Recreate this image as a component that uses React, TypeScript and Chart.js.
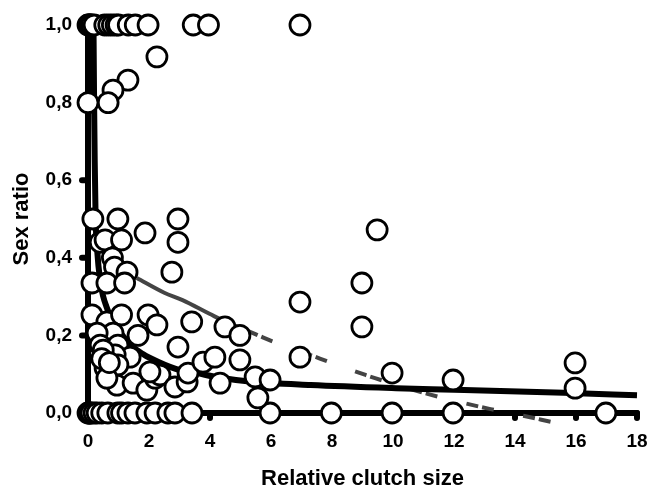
import { useEffect, useRef } from "react";
import { Chart, registerables } from "chart.js";

Chart.register(...registerables);

// Axis ticks
const xTicks = [0, 2, 4, 6, 8, 10, 12, 14, 16, 18];
const yTicks = [0, 0.2, 0.4, 0.6, 0.8, 1.0];

// Broods that were all male (sex ratio 1.0)
const allMaleX = [0, 0.02, 0.05, 0.08, 0.12, 0.2, 0.55, 0.68, 0.8, 0.92, 1.0, 1.32, 1.55, 1.97, 3.45, 3.95, 6.95];
const allMaleY = allMaleX.map(() => 1.0);

// Broods with mixed sex ratios
const mixedX = [
  2.26, 1.31, 0.82, 0.66, 0,
  0.16, 0.98, 1.87, 2.95, 2.95, 2.75, 0.4, 0.56, 1.1, 0.8, 0.87, 1.28, 0.13, 0.62, 1.2,
  9.48, 8.98, 8.98, 6.95, 6.95,
  0.13, 0.62, 1.1, 1.97, 2.26, 3.4, 1.64, 0.82, 0.3, 2.95, 0.4, 0.98, 1.38, 0.89, 0.5,
  0.56, 0.98, 0.95, 1.48, 1.93, 2.2, 2.36, 2.85, 3.25, 3.28, 3.77, 2.03, 0.62,
  4.49, 4.98, 4.16, 4.98, 4.33, 5.48, 5.97, 5.57, 9.97, 11.97, 15.97, 15.97, 0.45, 0.7,
];
const mixedY = [
  0.918, 0.858, 0.832, 0.8, 0.8,
  0.5, 0.5, 0.464, 0.5, 0.44, 0.363, 0.44, 0.446, 0.446, 0.4, 0.376, 0.363, 0.335, 0.335, 0.335,
  0.472, 0.335, 0.222, 0.286, 0.144,
  0.253, 0.235, 0.253, 0.253, 0.227, 0.235, 0.2, 0.206, 0.206, 0.17, 0.175, 0.175, 0.144, 0.15, 0.162,
  0.116, 0.124, 0.072, 0.077, 0.059, 0.09, 0.098, 0.067, 0.08, 0.103, 0.131, 0.106, 0.09,
  0.222, 0.2, 0.144, 0.137, 0.077, 0.093, 0.085, 0.039, 0.103, 0.085, 0.129, 0.064, 0.14, 0.13,
];

// Broods that were all female (sex ratio 0.0)
const allFemaleX = [0, 0.03, 0.06, 0.1, 0.2, 0.3, 0.45, 0.65, 0.98, 1.1, 1.31, 1.54, 1.93, 2.2, 2.62, 2.85, 3.41, 5.97, 7.98, 9.97, 11.97, 16.98];
const allFemaleY = allFemaleX.map(() => 0);

// Fitted curve (solid)
const fitX = [0.18, 0.2, 0.22, 0.25, 0.3, 0.4, 0.5, 0.6, 0.7, 1.0, 1.4, 1.8, 2.0, 2.9, 3.5, 4.4, 5.3, 7.3, 10.1, 12, 15.6, 18];
const fitY = [1.0, 0.8, 0.65, 0.5, 0.42, 0.34, 0.3, 0.275, 0.255, 0.215, 0.175, 0.152, 0.143, 0.113, 0.104, 0.09, 0.081, 0.072, 0.064, 0.06, 0.052, 0.046];

// Second fitted curve (grey, dashed beyond x = 4.8)
const trendX = [1.6, 2.5, 3.1, 4.0, 4.6, 5.2, 5.7, 6.1, 7.0, 8.2, 9.1, 9.6, 11.1, 12.1, 13.2, 14.2, 15.2];
const trendY = [0.348, 0.31, 0.291, 0.255, 0.232, 0.213, 0.196, 0.183, 0.158, 0.123, 0.098, 0.085, 0.05, 0.03, 0.01, -0.006, -0.023];

const toPoints = (xs: number[], ys: number[]) => xs.map((x, i) => ({ x, y: ys[i] }));

const FONT = "'Liberation Sans', Arial, Helvetica, sans-serif";

const axesPlugin = {
  id: "thickAxes",
  beforeDatasetsDraw(chart: any) {
    const { ctx, scales } = chart;
    const xs = scales.x;
    const ys = scales.y;
    const x0 = xs.getPixelForValue(xTicks[0]);
    const x1 = xs.getPixelForValue(xTicks[xTicks.length - 1]);
    const y0 = ys.getPixelForValue(yTicks[0]);
    const y1 = ys.getPixelForValue(yTicks[yTicks.length - 1]);
    ctx.save();
    ctx.strokeStyle = "#000";
    ctx.lineCap = "round";
    ctx.lineJoin = "round";
    ctx.lineWidth = 6;
    ctx.beginPath();
    ctx.moveTo(x0, y1);
    ctx.lineTo(x0, y0);
    ctx.lineTo(x1, y0);
    ctx.stroke();
    for (const v of yTicks) {
      const py = ys.getPixelForValue(v);
      ctx.beginPath();
      ctx.moveTo(x0 - 6, py);
      ctx.lineTo(x0, py);
      ctx.stroke();
    }
    for (const v of xTicks) {
      const px = xs.getPixelForValue(v);
      ctx.beginPath();
      ctx.moveTo(px, y0);
      ctx.lineTo(px, y0 + 5);
      ctx.stroke();
    }
    ctx.restore();
  },
};

export default function App() {
  const canvasRef = useRef<HTMLCanvasElement | null>(null);

  useEffect(() => {
    const canvas = canvasRef.current;
    if (!canvas) return;
    const circleStyle = {
      showLine: false,
      pointRadius: 10,
      pointBorderWidth: 2.8,
      pointBorderColor: "#000",
      pointBackgroundColor: "#fff",
      clip: false as const,
    };
    const chart = new Chart(canvas, {
      type: "scatter",
      data: {
        datasets: [
          { label: "all male", data: toPoints(allMaleX, allMaleY), ...circleStyle },
          { label: "mixed", data: toPoints(mixedX, mixedY), ...circleStyle },
          { label: "all female", data: toPoints(allFemaleX, allFemaleY), ...circleStyle },
          {
            label: "fit",
            data: toPoints(fitX, fitY),
            showLine: true,
            pointRadius: 0,
            borderColor: "#000",
            borderWidth: 6,
            cubicInterpolationMode: "monotone",
            clip: false as const,
          },
          {
            label: "trend",
            data: toPoints(trendX, trendY),
            showLine: true,
            pointRadius: 0,
            borderColor: "#444",
            borderWidth: 4,
            cubicInterpolationMode: "monotone",
            clip: false as const,
            segment: {
              borderDash: (ctx: any) => (ctx.p0.parsed.x >= 4.8 ? [12, 4, 12, 30] : []),
            },
          },
        ],
      },
      options: {
        animation: false,
        responsive: true,
        maintainAspectRatio: false,
        events: [],
        layout: { padding: { top: 25, right: 13, left: 0, bottom: 0 } },
        plugins: { legend: { display: false }, tooltip: { enabled: false } },
        scales: {
          x: {
            type: "linear",
            min: xTicks[0],
            max: xTicks[xTicks.length - 1],
            grid: { display: false, drawTicks: false },
            border: { display: false },
            afterFit: (scale: any) => {
              scale.height = 76;
              scale.paddingLeft = 0;
              scale.paddingRight = 0;
            },
            afterBuildTicks: (scale: any) => {
              scale.ticks = xTicks.map((v) => ({ value: v }));
            },
            ticks: {
              color: "#000",
              padding: 17,
              font: { family: FONT, size: 19, weight: "bold" },
              callback: (v: any) => String(v),
            },
            title: {
              display: true,
              text: "Relative clutch size",
              color: "#000",
              font: { family: FONT, size: 22, weight: "bold", lineHeight: 0.9 },
              padding: { top: 0, bottom: 0 },
            },
          },
          y: {
            type: "linear",
            min: yTicks[0],
            max: yTicks[yTicks.length - 1],
            grid: { display: false, drawTicks: false },
            border: { display: false },
            afterFit: (scale: any) => {
              scale.width = 88;
              scale.paddingTop = 0;
              scale.paddingBottom = 0;
            },
            afterBuildTicks: (scale: any) => {
              scale.ticks = yTicks.map((v) => ({ value: v }));
            },
            ticks: {
              color: "#000",
              padding: 16,
              font: { family: FONT, size: 19, weight: "bold" },
              callback: (v: any) => Number(v).toFixed(1).replace(".", ","),
            },
            title: {
              display: true,
              text: "Sex ratio",
              color: "#000",
              font: { family: FONT, size: 22, weight: "bold", lineHeight: 1 },
              padding: { top: 11, bottom: 0 },
            },
          },
        },
      },
      plugins: [axesPlugin],
    });
    return () => chart.destroy();
  }, []);

  return (
    <div style={{ position: "fixed", left: 0, top: 0, width: 650, height: 489, background: "#fff" }}>
      <canvas ref={canvasRef} />
    </div>
  );
}
